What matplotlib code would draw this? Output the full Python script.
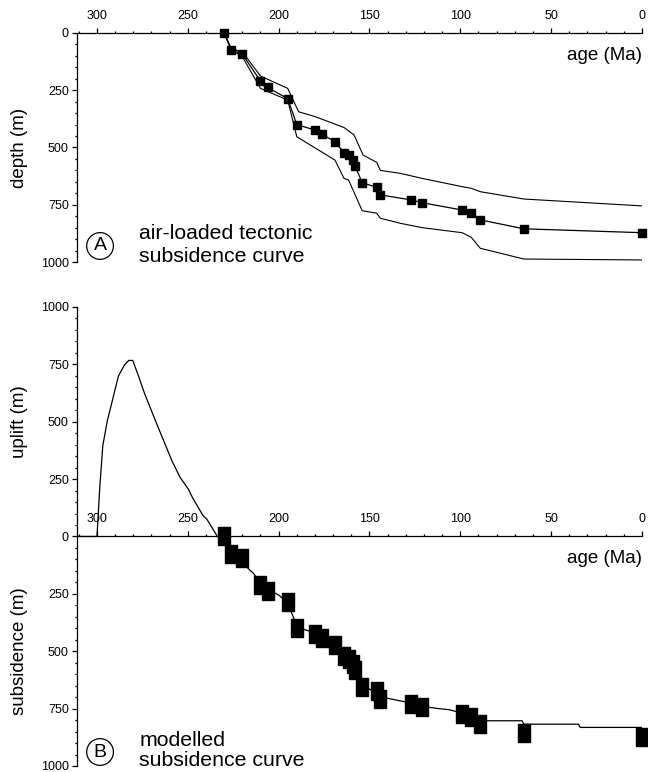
"""Air-loaded tectonic subsidence (A) and modelled uplift/subsidence (B)."""

import matplotlib

matplotlib.use("Agg")
import matplotlib.pyplot as plt
from matplotlib.ticker import FuncFormatter, MultipleLocator

plt.rcParams["font.family"] = ["Liberation Sans", "DejaVu Sans"]

INK = "black"

# backstripped tectonic subsidence (top panel, also the boxes in panel B)
OBS_AGE = [230, 226, 220, 210, 206, 195, 190, 180, 176, 169, 164, 161.5,
           159, 158, 154, 146, 144, 127, 121, 99, 94, 89, 65, 0]
OBS_DEPTH = [0, 75, 92, 210, 238, 287, 400, 424, 442, 475, 522, 533,
             555, 580, 654, 674, 707, 729, 741, 773, 785, 816, 855, 872]

# error envelope
UPPER_AGE = [230, 226, 220, 210, 195, 189, 180, 164, 158.5, 153.5, 146, 144,
             133, 121, 99, 94, 89, 65, 0]
UPPER_DEPTH = [0, 70, 82, 188, 242, 344, 365, 413, 445, 533, 565, 600,
               613, 635, 671, 678, 693, 725, 755]
LOWER_AGE = [230, 226, 220, 210, 195, 190, 169, 164, 161.5, 154, 146, 144,
             133, 121, 99, 94, 89, 65, 0]
LOWER_DEPTH = [0, 74, 103, 242, 293, 453, 555, 635, 642, 776, 787, 809,
               831, 850, 872, 892, 940, 987, 991]

# modelled curve: positive = uplift, negative = subsidence
MODEL_AGE = [311, 300, 298.4, 296.8, 294.3, 292, 288.2, 284.8, 282.5, 280.3,
             276.9, 273.9, 267.8, 258.7, 254.2, 249.6, 247.4, 241.7, 239.4,
             233.7, 230, 226, 222, 218, 214, 210, 206, 200, 195, 190, 186,
             180, 176, 170, 164, 160, 158, 155, 150, 146, 140, 134, 127, 121,
             112, 106, 99, 94, 89, 84, 66, 65, 35, 34, 0]
MODEL_Z = [0, 0, 220, 395, 504, 577, 699, 748, 767, 767,
           694, 625, 504, 329, 257, 205, 169, 92, 74,
           0, -10, -60, -100, -130, -160, -200, -230, -255, -290, -390, -405,
           -420, -435, -465, -515, -545, -585, -640, -665, -685, -705, -715,
           -725, -740, -750, -755, -770, -785, -800, -803, -803, -818, -818,
           -832, -832]

AGE_LIM = (311, 0)
BOX = [(-0.62, -1), (0.62, -1), (0.62, 1), (-0.62, 1), (-0.62, -1)]


def style_axis(ax, ylim):
    ax.set_xlim(*AGE_LIM)
    ax.set_ylim(*ylim)
    ax.spines["right"].set_visible(False)
    ax.spines["bottom"].set_visible(False)
    for s in ("left", "top"):
        ax.spines[s].set_linewidth(0.9)
    ax.xaxis.tick_top()
    ax.xaxis.set_major_locator(MultipleLocator(50))
    ax.xaxis.set_minor_locator(MultipleLocator(10))
    ax.yaxis.set_major_locator(MultipleLocator(250))
    ax.yaxis.set_minor_locator(MultipleLocator(50))
    ax.yaxis.set_major_formatter(FuncFormatter(lambda v, _: f"{abs(v):.0f}"))
    ax.tick_params(axis="x", which="major", length=3.6, width=0.9, pad=4.5,
                   labelsize=9, direction="out")
    ax.tick_params(axis="x", which="minor", length=1.6, width=0.9, direction="out")
    ax.tick_params(axis="y", which="major", length=3.4, width=0.9, pad=2.5,
                   labelsize=9)
    ax.tick_params(axis="y", which="minor", length=1.8, width=0.9)
    ax.annotate("age (Ma)", xy=(0, 0), xycoords="data", xytext=(0, -16),
                textcoords="offset points", ha="right", va="center",
                fontsize=13.5, color=INK)


def label_block(ax, letter, lines, y_base):
    ax.text(298.3, y_base[0] + (y_base[1] - y_base[0]) * 0.3, letter,
            ha="center", va="center", fontsize=14,
            bbox=dict(boxstyle="circle,pad=0.25", fc="none", ec=INK, lw=0.9))
    for line, y in zip(lines, y_base):
        ax.text(276.8, y, line, ha="left", va="baseline", fontsize=15.3,
                color=INK)


fig = plt.figure(figsize=(6.48, 7.72), dpi=100)

# panel A
ax1 = fig.add_axes([0.1188, 0.6606, 0.8719, 0.2967])
ax1.plot(UPPER_AGE, UPPER_DEPTH, color=INK, lw=0.8)
ax1.plot(LOWER_AGE, LOWER_DEPTH, color=INK, lw=0.8)
ax1.plot(OBS_AGE, OBS_DEPTH, color=INK, lw=0.9, marker="s", ms=6.2,
         clip_on=False)
style_axis(ax1, (1000, 0))
ax1.text(-0.102, 0.5, "depth (m)", transform=ax1.transAxes, rotation=90,
         ha="center", va="center", fontsize=13.5)
label_block(ax1, "A", ["air-loaded tectonic", "subsidence curve"], [900, 1000])

# panel B
ax2 = fig.add_axes([0.1188, 0.0078, 0.8719, 0.5946])
ax2.spines["top"].set_position(("data", 0))
ax2.plot(MODEL_AGE, MODEL_Z, color=INK, lw=0.9)
ax2.plot(OBS_AGE, [-d for d in OBS_DEPTH], ls="none", color=INK,
         marker=BOX, ms=13, clip_on=False)
style_axis(ax2, (-1000, 1000))
ax2.text(-0.102, 0.75, "uplift (m)", transform=ax2.transAxes, rotation=90,
         ha="center", va="center", fontsize=13.5)
ax2.text(-0.102, 0.25, "subsidence (m)", transform=ax2.transAxes, rotation=90,
         ha="center", va="center", fontsize=13.5)
label_block(ax2, "B", ["modelled", "subsidence curve"], [-913, -1000])

fig.savefig("out.png", dpi=100)
